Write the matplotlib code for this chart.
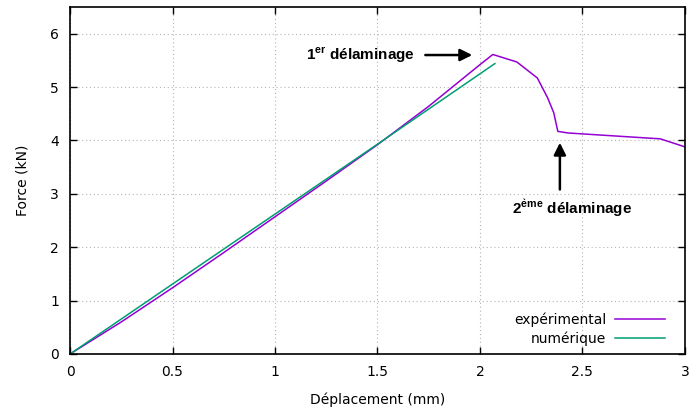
import numpy as np
import matplotlib
matplotlib.use("Agg")
import matplotlib.pyplot as plt

# courbe force / deplacement
exp_x = [0, 0.25, 0.5, 0.75, 1.0, 1.25, 1.5, 1.75, 2.0, 2.063, 2.18, 2.28, 2.33, 2.36, 2.38, 2.43, 2.88, 3.0]
exp_y = [0, 0.60, 1.24, 1.90, 2.57, 3.24, 3.92, 4.64, 5.42, 5.61, 5.47, 5.17, 4.80, 4.52, 4.17, 4.14, 4.03, 3.88]

num_x = [0, 0.5, 1.0, 1.5, 2.073]
num_y = [0, 1.31, 2.62, 3.93, 5.44]

xticks = [0, 0.5, 1, 1.5, 2, 2.5, 3]
xlabels = ['0', '0.5', '1', '1.5', '2', '2.5', '3']
yticks = [0, 1, 2, 3, 4, 5, 6]

plt.rcParams['font.family'] = 'DejaVu Sans'
plt.rcParams['mathtext.fontset'] = 'custom'
plt.rcParams['mathtext.rm'] = 'Liberation Sans:bold'
plt.rcParams['mathtext.bf'] = 'Liberation Sans:bold'

fig = plt.figure(figsize=(6.94, 4.11), dpi=100)
ax = fig.add_axes([0.1009, 0.1387, 0.886, 0.8443])

ax.plot(exp_x, exp_y, color='#9400D3', lw=1.1, label='expérimental')
ax.plot(num_x, num_y, color='#009E73', lw=1.1, label='numérique')

ax.set_xlim(0, 3)
ax.set_ylim(0, 6.5)
ax.set_xticks(xticks)
ax.set_xticklabels(xlabels)
ax.set_yticks(yticks)
ax.tick_params(direction='in', top=True, right=True, length=5, width=1, labelsize=10, colors='black')
ax.tick_params(axis='x', pad=8)
ax.tick_params(axis='y', pad=8)
ax.grid(True, linestyle=(0, (1, 2.5)), color='#b4b4b4', lw=0.8)
for s in ax.spines.values():
    s.set_linewidth(1.2)

ax.set_xlabel('Déplacement (mm)', fontsize=10, labelpad=10)
ax.set_ylabel('Force (kN)', fontsize=10, labelpad=15)

ax.annotate('', xy=(1.976, 5.60), xytext=(1.72, 5.60),
            arrowprops=dict(arrowstyle='-|>', color='black', lw=1.8, mutation_scale=18))
ax.text(1.683, 5.60, r'1$^{\mathrm{er}}$ délaminage', family='Liberation Sans', fontweight='bold',
        fontsize=11, ha='right', va='center')

ax.annotate('', xy=(2.39, 4.01), xytext=(2.39, 3.03),
            arrowprops=dict(arrowstyle='-|>', color='black', lw=1.8, mutation_scale=18))
ax.text(2.449, 2.74, r'2$^{\mathrm{\`eme}}$ délaminage', family='Liberation Sans', fontweight='bold',
        fontsize=11, ha='center', va='center')

leg = ax.legend(loc='lower right', bbox_to_anchor=(0.983, -0.005), frameon=False, markerfirst=False,
                fontsize=10, handlelength=3.6, handletextpad=0.6, labelspacing=0.3, borderaxespad=0.3)

fig.savefig('out.png', dpi=100)
